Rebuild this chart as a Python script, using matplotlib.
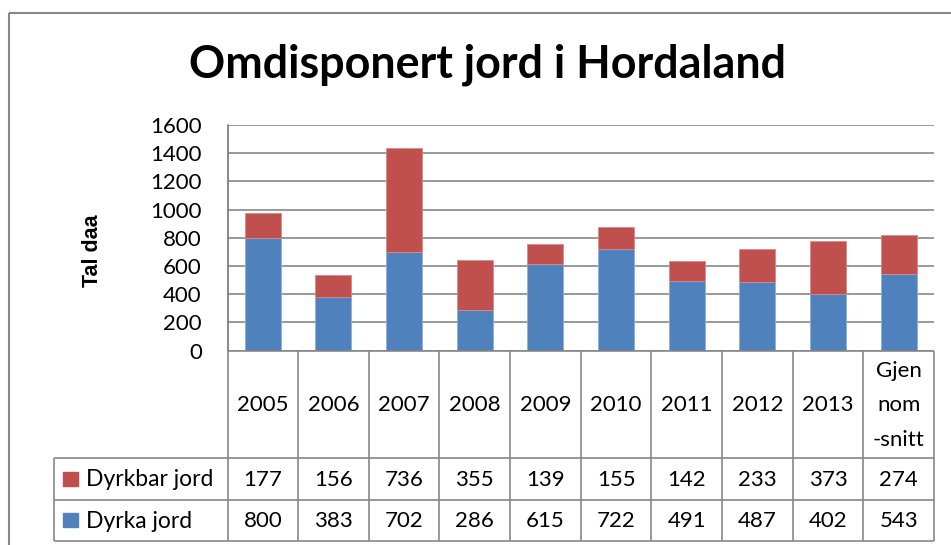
import numpy as np
import matplotlib.pyplot as plt
from matplotlib.lines import Line2D
from matplotlib.patches import Rectangle

# dati
kategoriar = ["2005", "2006", "2007", "2008", "2009", "2010", "2011", "2012", "2013", "Gjen\nnom\n-snitt"]
dyrka_jord = [800, 383, 702, 286, 615, 722, 491, 487, 402, 543]
dyrkbar_jord = [177, 156, 736, 355, 139, 155, 142, 233, 373, 274]
serie_namn = ["Dyrkbar jord", "Dyrka jord"]
tittel = "Omdisponert jord i Hordaland"
y_tekst = "Tal daa"

BLA = "#4F81BD"
RAUD = "#C0504D"
GRA = "#878787"

plt.rcParams["font.family"] = ["Lato", "DejaVu Sans"]

W, H = 951, 545
fig = plt.figure(figsize=(W / 100, H / 100), dpi=100)


def fx(x):
    return x / W


def fy(y):
    return 1 - y / H


def linje(x0, y0, x1, y1, lw=1.2, col=GRA):
    fig.add_artist(Line2D([fx(x0), fx(x1)], [fy(y0), fy(y1)], transform=fig.transFigure,
                         color=col, lw=lw, solid_capstyle="butt"))


# area del grafico (pixel)
L, R, T, B = 227.5, 934, 125, 350.7
ax = fig.add_axes([fx(L), fy(B), fx(R - L), (B - T) / H])

n = len(kategoriar)
xx = np.arange(n)
ax.bar(xx, dyrka_jord, width=0.51, color=BLA, edgecolor="#8FB0DA", linewidth=0.6, zorder=3)
ax.bar(xx, dyrkbar_jord, width=0.51, bottom=dyrka_jord, color=RAUD, edgecolor="#D88A88",
       linewidth=0.6, zorder=3)
ax.set_xlim(-0.5, n - 0.5)
ax.set_ylim(0, 1600)
ax.set_yticks(range(0, 1601, 200))
ax.set_xticks([])
ax.tick_params(axis="y", length=0, pad=18.5, labelsize=16)
ax.yaxis.grid(True, color=GRA, lw=1.2)
ax.set_axisbelow(True)
for s in ["top", "right", "bottom"]:
    ax.spines[s].set_visible(False)
ax.spines["left"].set_color(GRA)
ax.spines["left"].set_linewidth(1.2)

# titolo e etichetta asse y
fig.text(fx(487), fy(65), tittel, fontsize=32.3, fontweight="bold", ha="center", va="center")
fig.text(fx(92), fy(251), y_tekst, fontsize=15.5, fontweight="bold", rotation=90,
         ha="center", va="center", family="Liberation Sans")

# tabella dati
r1, r2, r3 = 457.7, 500, 540.7
leg_l = 54.3
cw = (R - L) / n
linje(L, B, R, B)
linje(L, T, L, r3)
for i in range(1, n + 1):
    linje(L + i * cw, B, L + i * cw, r3)
for y in [r1, r2, r3]:
    linje(leg_l, y, R, y)
linje(leg_l, r1, leg_l, r3)

for i, k in enumerate(kategoriar):
    cx = L + (i + 0.5) * cw
    fig.text(fx(cx), fy((B + r1) / 2 + 1), k, fontsize=16, ha="center", va="center",
             linespacing=1.9)
    fig.text(fx(cx), fy((r1 + r2) / 2 + 1), str(dyrkbar_jord[i]), fontsize=16,
             ha="center", va="center")
    fig.text(fx(cx), fy((r2 + r3) / 2 + 1), str(dyrka_jord[i]), fontsize=16,
             ha="center", va="center")

for j, (namn, col) in enumerate(zip(serie_namn, [RAUD, BLA])):
    yc = [(r1 + r2) / 2, (r2 + r3) / 2][j]
    fig.add_artist(Rectangle((fx(63), fy(yc + 7)), 14.5 / W, 14 / H, transform=fig.transFigure,
                             color=col))
    fig.text(fx(86), fy(yc + 1), namn, fontsize=16.5, ha="left", va="center")

# cornice esterna
linje(9, 13, W + 5, 13, lw=1.5)
linje(9, 13, 9, H + 5, lw=1.5)

plt.savefig("out.png", dpi=100)
